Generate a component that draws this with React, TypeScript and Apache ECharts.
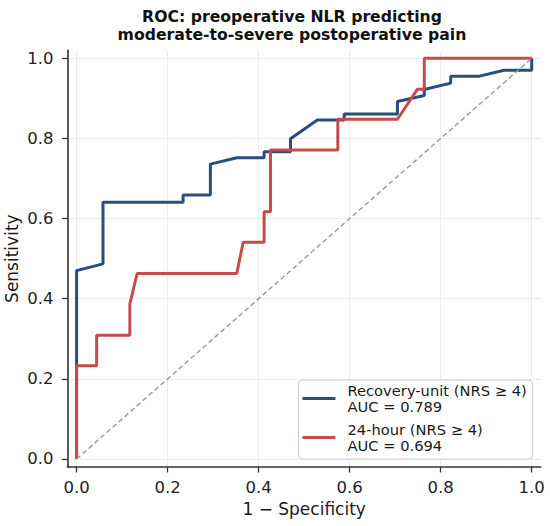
import React, { useEffect, useRef } from "react";
import * as echarts from "echarts";

const titleLines = ["ROC: preoperative NLR predicting", "moderate-to-severe postoperative pain"];
const xAxisName = "1 − Specificity";
const yAxisName = "Sensitivity";
const tickValues = [0, 0.2, 0.4, 0.6, 0.8, 1.0];

const seriesNames = ["Recovery-unit (NRS ≥ 4)", "24-hour (NRS ≥ 4)"];
const aucValues = ["0.789", "0.694"];

const recoveryFpr = [0, 0, 0.058, 0.058, 0.234, 0.234, 0.294, 0.294, 0.352, 0.412, 0.412, 0.47, 0.47, 0.529, 0.588, 0.588, 0.705, 0.705, 0.764, 0.764, 0.822, 0.822, 0.883, 0.939, 1.0, 1.0];
const recoveryTpr = [0, 0.47, 0.487, 0.641, 0.641, 0.659, 0.659, 0.736, 0.752, 0.752, 0.767, 0.767, 0.799, 0.846, 0.846, 0.861, 0.861, 0.892, 0.907, 0.922, 0.938, 0.955, 0.955, 0.97, 0.97, 1.0];

const dayFpr = [0, 0, 0.044, 0.044, 0.117, 0.117, 0.133, 0.352, 0.366, 0.412, 0.412, 0.426, 0.426, 0.574, 0.574, 0.705, 0.749, 0.764, 0.764, 1.0];
const dayTpr = [0, 0.233, 0.233, 0.309, 0.309, 0.387, 0.463, 0.463, 0.541, 0.541, 0.617, 0.617, 0.771, 0.771, 0.848, 0.848, 0.923, 0.923, 1.0, 1.0];

const chanceX = [0, 1];
const chanceY = [0, 1];

const FONT = "DejaVu Sans";

export default function App() {
  const ref = useRef<HTMLDivElement>(null);
  useEffect(() => {
    const chart = echarts.init(ref.current!, null, { renderer: "svg" });
    const zip = (xs: number[], ys: number[]) => xs.map((x, i) => [x, ys[i]]);
    const axisCommon = {
      type: "value",
      min: -0.02,
      max: 1.02,
      nameLocation: "middle",
      nameMoveOverlap: false,
      nameTextStyle: { fontFamily: FONT, fontSize: 17, color: "#1a1a1a" },
      axisLine: { show: true, onZero: false, lineStyle: { color: "#333", width: 1.6 } },
      axisTick: { show: true, length: 5.5, customValues: tickValues, lineStyle: { color: "#333", width: 1.3 } },
      splitLine: { show: true, lineStyle: { color: "#ebebeb", width: 1 } },
    };
    chart.setOption({
      animation: false,
      backgroundColor: "#ffffff",
      title: {
        text: titleLines.join("\n"),
        left: 287,
        top: 2,
        textAlign: "center",
        textStyle: { fontFamily: FONT, fontSize: 15.7, fontWeight: "bold", lineHeight: 18.5, color: "#111" },
      },
      grid: { left: 67.5, right: 9.2, top: 50.3, bottom: 59, containLabel: false, outerBoundsMode: "none" },
      xAxis: {
        ...axisCommon,
        name: xAxisName,
        nameGap: 33,
        axisLabel: {
          customValues: tickValues,
          formatter: (v: number) => v.toFixed(1),
          fontFamily: FONT,
          fontSize: 16.5,
          color: "#222",
          margin: 11.5,
        },
      },
      yAxis: {
        ...axisCommon,
        name: yAxisName,
        nameGap: 47,
        axisLabel: {
          customValues: tickValues,
          formatter: (v: number) => v.toFixed(1),
          fontFamily: FONT,
          fontSize: 16.5,
          color: "#222",
          margin: 14,
        },
      },
      legend: {
        orient: "vertical",
        right: 17.3,
        bottom: 67,
        data: seriesNames,
        icon: "rect",
        itemWidth: 33,
        itemHeight: 3,
        itemGap: 8,
        padding: [3, 6, 6, 4],
        backgroundColor: "rgba(255,255,255,0.8)",
        borderColor: "#cccccc",
        borderWidth: 1,
        borderRadius: 4,
        formatter: (name: string) => {
          const i = seriesNames.indexOf(name);
          return name + "\nAUC = " + aucValues[i];
        },
        textStyle: { fontFamily: FONT, fontSize: 14.7, lineHeight: 15.5, color: "#1a1a1a", padding: [0, 0, 0, 7] },
      },
      series: [
        {
          name: seriesNames[0],
          type: "line",
          data: zip(recoveryFpr, recoveryTpr),
          symbol: "none",
          clip: false,
          lineStyle: { color: "#2b4c7e", width: 3 },
          itemStyle: { color: "#2b4c7e" },
          z: 3,
        },
        {
          name: seriesNames[1],
          type: "line",
          data: zip(dayFpr, dayTpr),
          symbol: "none",
          clip: false,
          lineStyle: { color: "#c84b4b", width: 3 },
          itemStyle: { color: "#c84b4b" },
          z: 4,
        },
        {
          name: "chance",
          type: "line",
          data: zip(chanceX, chanceY),
          symbol: "none",
          clip: false,
          silent: true,
          lineStyle: { color: "#999999", width: 1.4, type: [5, 3] },
          z: 5,
        },
      ],
    });
    return () => chart.dispose();
  }, []);
  return <div ref={ref} style={{ position: "fixed", left: 0, top: 0, width: 550, height: 526 }} />;
}
